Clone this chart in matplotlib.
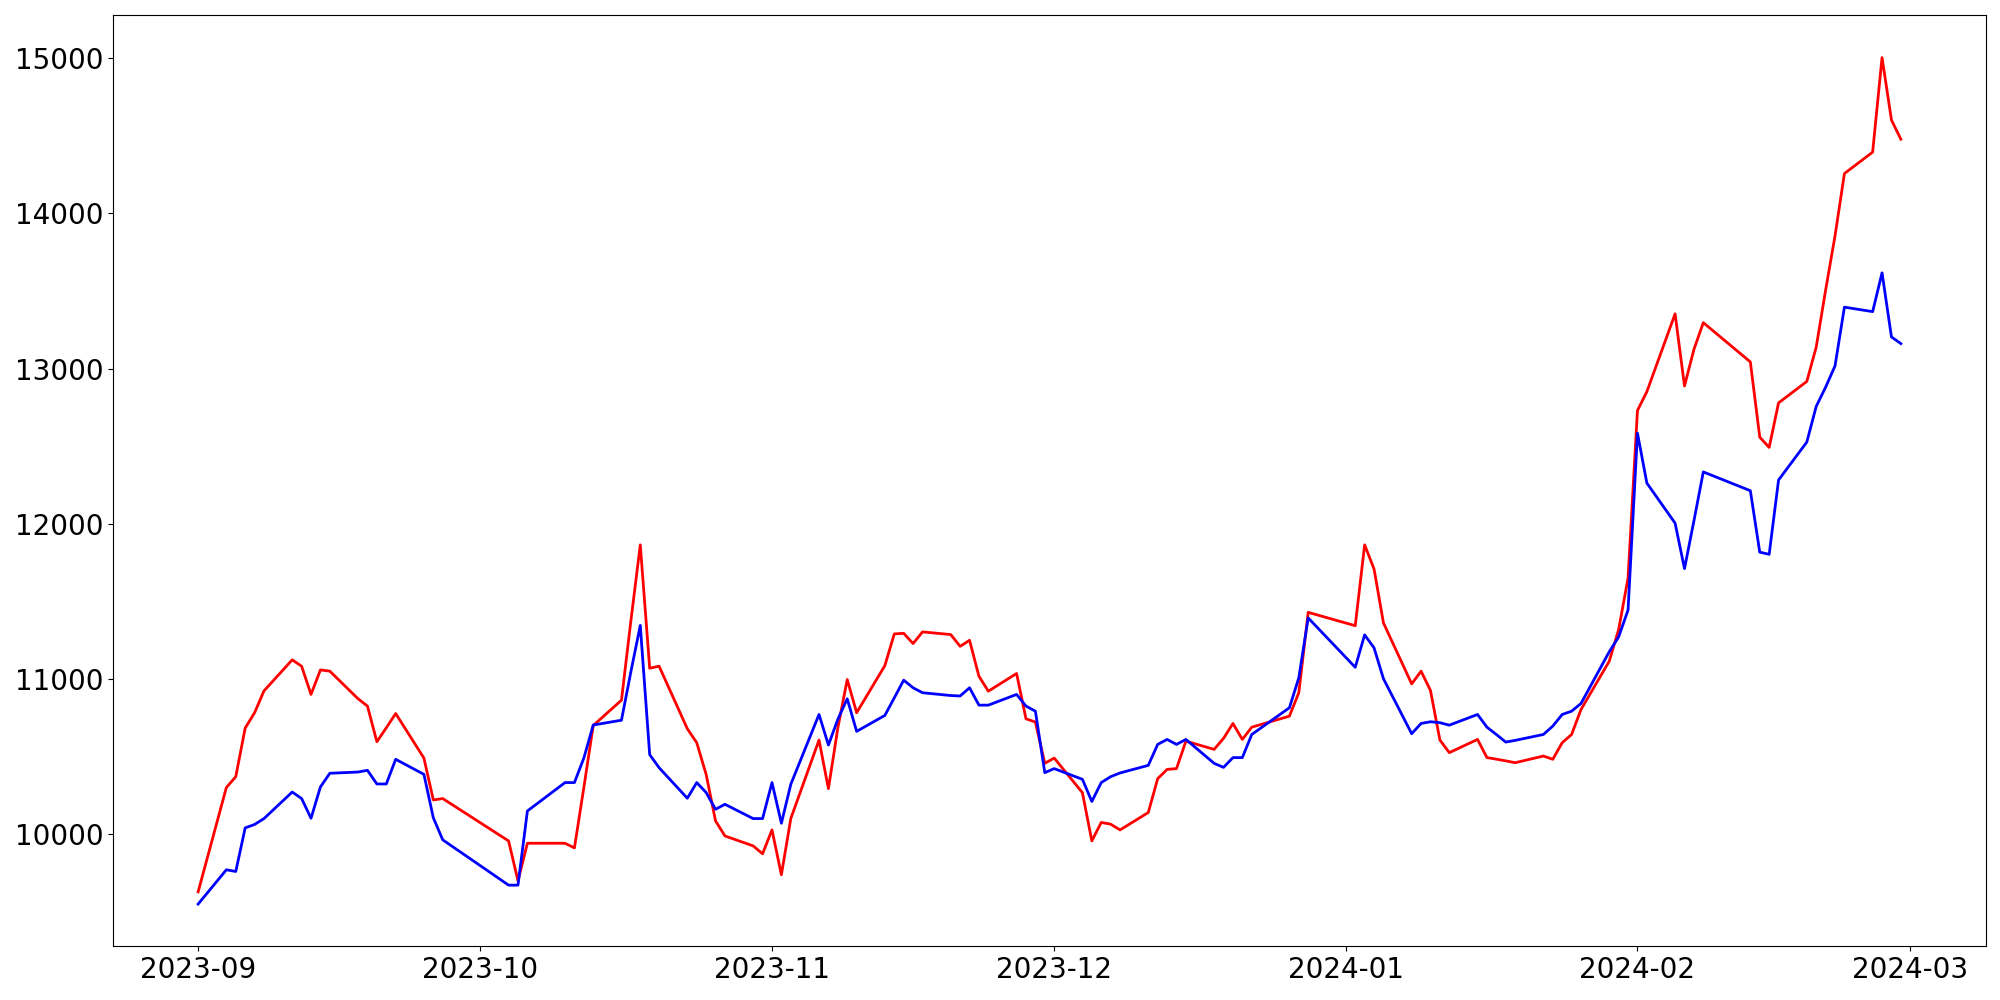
import matplotlib
matplotlib.use("Agg")
import matplotlib.pyplot as plt
import pandas as pd

# Trading days (weekdays without the market holidays seen as gaps in the chart)
holidays = ["2023-09-28", "2023-09-29", "2023-10-02", "2023-10-03", "2023-10-09",
            "2023-12-25", "2023-12-29", "2024-01-01", "2024-02-09", "2024-02-12"]
dates = pd.bdate_range("2023-09-01", "2024-02-29")
dates = dates[~dates.isin(pd.to_datetime(holidays))]

# red series, month by month
red_sep = [9628, 10300, 10370, 10683, 10782, 10923, 11123, 11082, 10900, 11058,
           11050, 10872, 10825, 10595, 10685, 10777, 10490, 10220, 10229]
red_oct = [9956, 9699, 9941, 9941, 9911, 10300, 10700, 10863, 11374, 11864,
           11069, 11082, 10679, 10589, 10385, 10085, 9988, 9924, 9873]
red_nov = [10027, 9738, 10100, 10606, 10293, 10684, 10996, 10782, 11086, 11290, 11294,
           11228, 11303, 11286, 11210, 11249, 11017, 10921, 11035, 10743, 10722, 10456]
red_dec = [10490, 10267, 9956, 10075, 10064, 10027, 10139, 10357, 10417, 10422,
           10599, 10546, 10617, 10713, 10610, 10689, 10760, 10911, 11429]
red_jan = [11343, 11864, 11708, 11361, 10968, 11050, 10925, 10606, 10525, 10610, 10493,
           10483, 10472, 10460, 10503, 10482, 10589, 10642, 10803, 11114, 11318, 11650]
red_feb = [12730, 12851, 13353, 12888, 13123, 13296, 13043, 12558, 12492, 12779,
           12917, 13138, 13505, 13855, 14257, 14395, 15004, 14602, 14478]

# blue series, month by month
blue_sep = [9549, 9770, 9759, 10040, 10062, 10100, 10271, 10229, 10102, 10304,
            10392, 10400, 10411, 10323, 10323, 10482, 10385, 10105, 9963]
blue_oct = [9671, 9671, 10149, 10332, 10332, 10490, 10703, 10734, 11046, 11345,
            10512, 10428, 10231, 10332, 10268, 10160, 10192, 10100, 10100]
blue_nov = [10332, 10070, 10321, 10771, 10574, 10740, 10872, 10662, 10765, 10878, 10992,
            10943, 10911, 10893, 10890, 10943, 10831, 10831, 10900, 10825, 10792, 10396]
blue_dec = [10422, 10353, 10210, 10332, 10370, 10394, 10443, 10578, 10610, 10578,
            10610, 10456, 10430, 10493, 10493, 10642, 10814, 11007, 11393]
blue_jan = [11075, 11284, 11200, 11001, 10647, 10713, 10724, 10718, 10702, 10771, 10689,
            10642, 10593, 10604, 10642, 10696, 10771, 10792, 10842, 11175, 11271, 11444]
blue_feb = [12584, 12262, 12004, 11711, 12018, 12334, 12213, 11817, 11803, 12282,
            12526, 12756, 12880, 13017, 13396, 13367, 13617, 13204, 13161]

red = red_sep + red_oct + red_nov + red_dec + red_jan + red_feb
blue = blue_sep + blue_oct + blue_nov + blue_dec + blue_jan + blue_feb

fig = plt.figure(figsize=(20, 10), dpi=100)
ax = fig.add_axes([0.0565, 0.0536, 0.9365, 0.9311])
ax.plot(dates, red, color="red", linewidth=2)
ax.plot(dates, blue, color="blue", linewidth=2)
ax.tick_params(labelsize=20)

fig.savefig("out.png", dpi=100)
